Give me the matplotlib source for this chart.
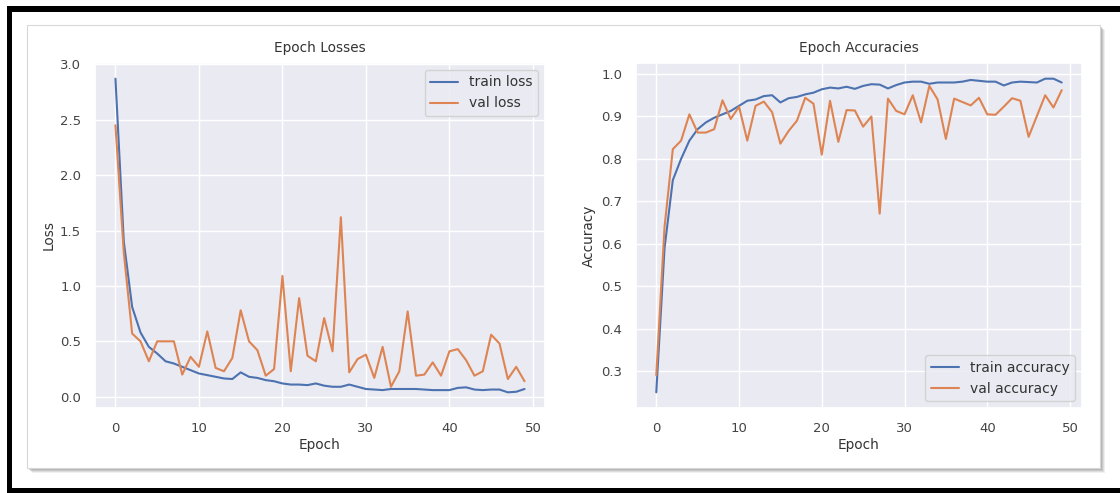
import matplotlib

matplotlib.use("Agg")
import matplotlib.pyplot as plt
import numpy as np
import seaborn as sns
from matplotlib.patches import Rectangle

# values
epochs = np.arange(50)

train_loss = [
    2.87, 1.40, 0.81, 0.58, 0.45, 0.39, 0.32, 0.30, 0.27, 0.24,
    0.21, 0.195, 0.18, 0.165, 0.16, 0.22, 0.18, 0.17, 0.15, 0.14,
    0.12, 0.11, 0.11, 0.105, 0.12, 0.10, 0.09, 0.09, 0.11, 0.09,
    0.07, 0.065, 0.06, 0.07, 0.07, 0.07, 0.07, 0.065, 0.06, 0.06,
    0.06, 0.08, 0.085, 0.065, 0.06, 0.065, 0.065, 0.04, 0.045, 0.07,
]
val_loss = [
    2.45, 1.30, 0.57, 0.50, 0.32, 0.50, 0.50, 0.50, 0.20, 0.36,
    0.27, 0.59, 0.26, 0.23, 0.35, 0.78, 0.50, 0.42, 0.19, 0.25,
    1.09, 0.23, 0.89, 0.37, 0.32, 0.71, 0.41, 1.62, 0.22, 0.34,
    0.38, 0.17, 0.45, 0.09, 0.23, 0.77, 0.19, 0.20, 0.31, 0.19,
    0.41, 0.43, 0.33, 0.19, 0.23, 0.56, 0.48, 0.16, 0.27, 0.14,
]
train_acc = [
    0.25, 0.59, 0.75, 0.80, 0.843, 0.87, 0.886, 0.897, 0.905, 0.913,
    0.925, 0.937, 0.94, 0.948, 0.95, 0.933, 0.943, 0.946, 0.952, 0.956,
    0.964, 0.968, 0.966, 0.97, 0.965, 0.972, 0.976, 0.975, 0.966, 0.974,
    0.98, 0.982, 0.982, 0.977, 0.98, 0.98, 0.98, 0.982, 0.986, 0.984,
    0.982, 0.982, 0.973, 0.98, 0.982, 0.981, 0.98, 0.989, 0.989, 0.98,
]
val_acc = [
    0.29, 0.64, 0.823, 0.843, 0.905, 0.862, 0.862, 0.87, 0.938, 0.894,
    0.923, 0.843, 0.925, 0.935, 0.91, 0.836, 0.866, 0.89, 0.944, 0.93,
    0.81, 0.937, 0.84, 0.915, 0.914, 0.876, 0.90, 0.671, 0.942, 0.913,
    0.905, 0.95, 0.886, 0.972, 0.94, 0.847, 0.942, 0.934, 0.926, 0.944,
    0.905, 0.904, 0.923, 0.943, 0.937, 0.852, 0.901, 0.95, 0.921, 0.962,
]

sns.set_theme(style="darkgrid")
plt.rcParams["font.family"] = ["DejaVu Sans"]

W, H = 1120, 493
fig = plt.figure(figsize=(W / 100, H / 100), dpi=100)
fig.patch.set_facecolor("white")


def px(x0, y0, w, h):
    # pixel box (top-left origin) -> figure fraction
    return [x0 / W, 1 - (y0 + h) / H, w / W, h / H]


def fig_rect(box, **kw):
    b = px(*box)
    fig.patches.append(Rectangle(b[:2], b[2], b[3], transform=fig.transFigure, zorder=-5, **kw))


# black frame lines of the screenshot
for box in [(7, 6, W - 7, 6), (7, 6, 5, H - 6), (7, 488, W - 7, 5)]:
    fig_rect(box, fc="black", ec="none")

# card with soft shadow
for off, a in [(5, 0.12), (4, 0.18), (3, 0.25), (2, 0.3)]:
    fig_rect((27 + off, 25 + off, 1073, 443), fc="#8a8a8a", ec="none", alpha=a)
fig_rect((27, 25, 1073, 443), fc="white", ec="#d8d8d8", lw=0.8)

text_kw = dict(fontsize=9.8, color="#333333")
blue, orange = "#4C72B0", "#DD8452"

ax1 = fig.add_axes(px(95, 63, 450, 345))
ax1.plot(epochs, train_loss, label="train loss", lw=1.5, color=blue)
ax1.plot(epochs, val_loss, label="val loss", lw=1.5, color=orange)
ax1.set_title("Epoch Losses", pad=8, **text_kw)
ax1.set_xlabel("Epoch", labelpad=2, **text_kw)
ax1.set_ylabel("Loss", labelpad=3, **text_kw)
ax1.set_yticks([0.0, 0.5, 1.0, 1.5, 2.0, 2.5, 3.0])
ax1.legend(loc="upper right", fontsize=10, labelcolor="#333333")

ax2 = fig.add_axes(px(636, 63, 446, 345))
ax2.plot(epochs, train_acc, label="train accuracy", lw=1.5, color=blue)
ax2.plot(epochs, val_acc, label="val accuracy", lw=1.5, color=orange)
ax2.set_title("Epoch Accuracies", pad=8, **text_kw)
ax2.set_xlabel("Epoch", labelpad=2, **text_kw)
ax2.set_ylabel("Accuracy", labelpad=4, **text_kw)
ax2.legend(loc="lower right", fontsize=10, labelcolor="#333333")

for ax in (ax1, ax2):
    ax.set_xticks([0, 10, 20, 30, 40, 50])
    ax.tick_params(labelsize=9.5, labelcolor="#444444", pad=4)

fig.savefig("out.png", dpi=100)
